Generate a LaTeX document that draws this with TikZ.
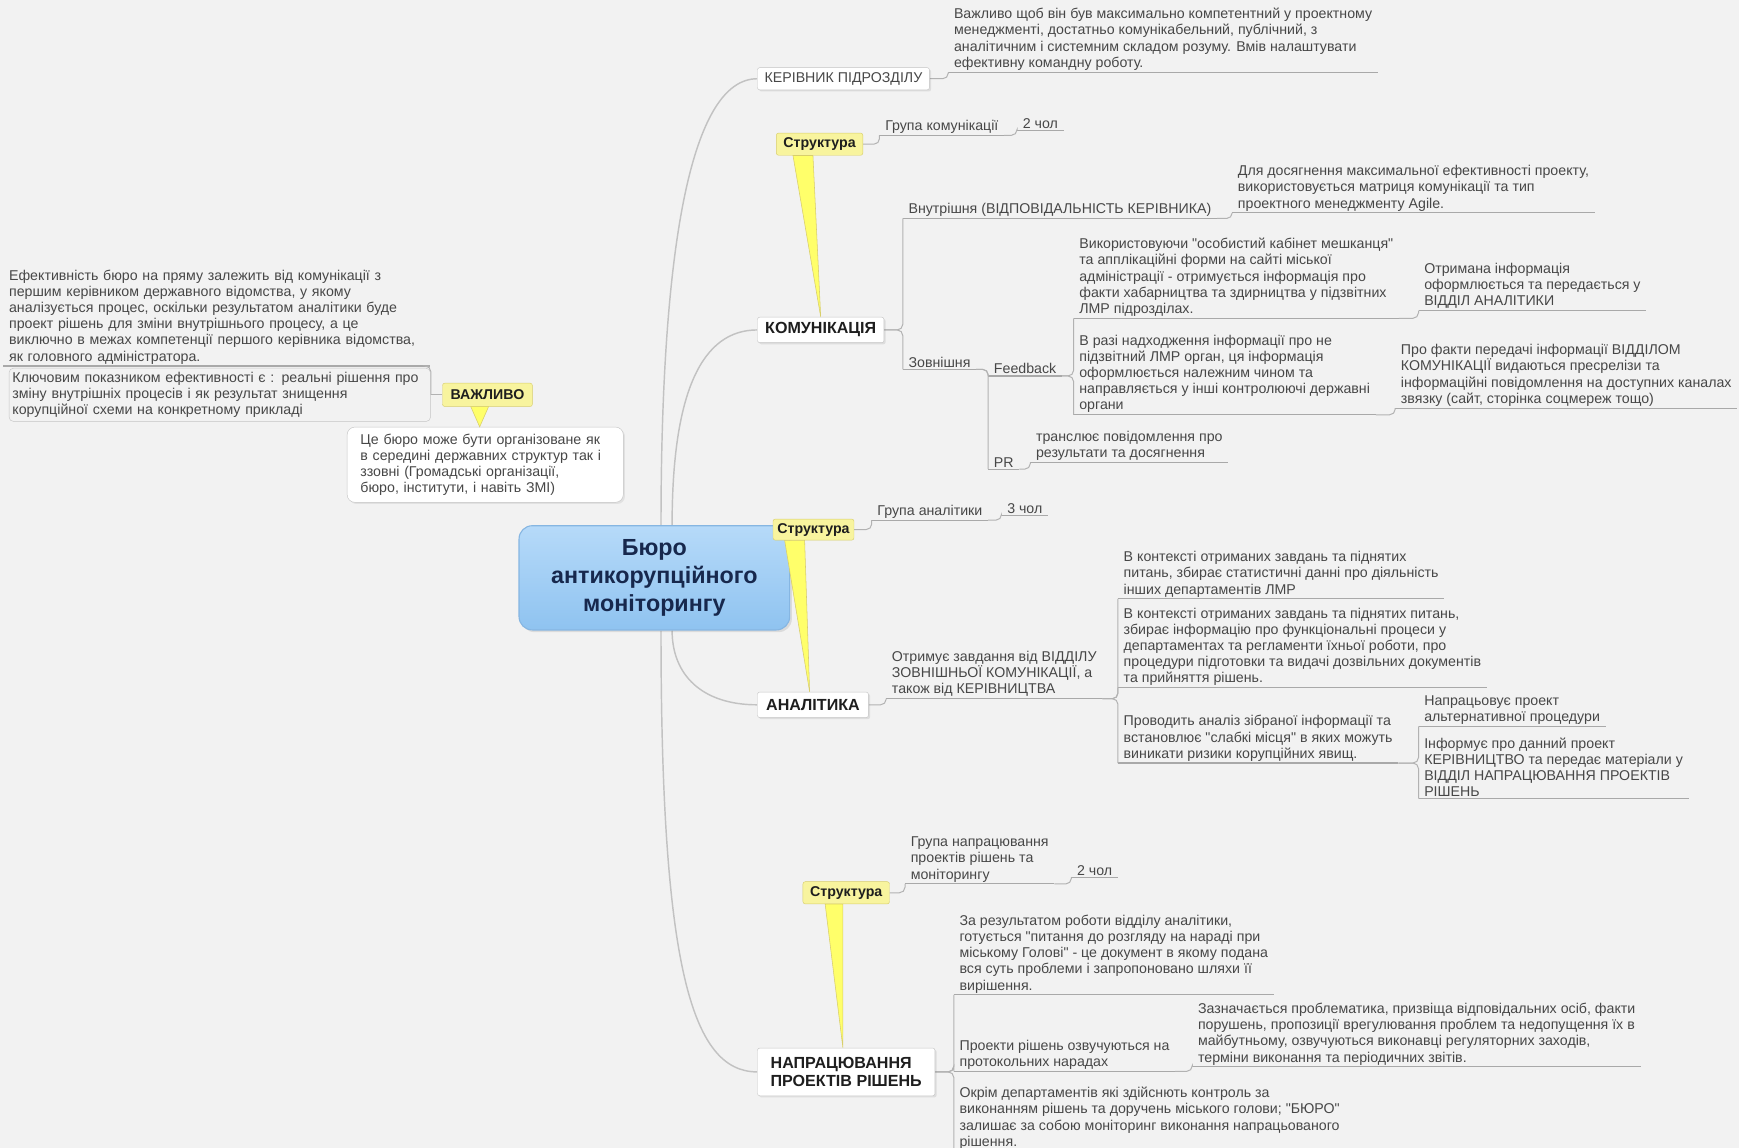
\documentclass[tikz,border=0pt]{standalone}
\usepackage{fontspec}
\setmainfont{Liberation Sans}[Ligatures=TeXOff]
\usetikzlibrary{shadows}
\pgfdeclarelayer{bgfill}
\pgfdeclarelayer{background}
\pgfsetlayers{bgfill,background,main}
\newcommand{\dq}{\char34\relax}
\definecolor{bg}{HTML}{F2F2F2}
\definecolor{lnc}{HTML}{B2B2B2}
\definecolor{brc}{HTML}{C2C2C2}
\definecolor{ulc}{HTML}{A9A9A9}
\definecolor{txc}{HTML}{474747}
\definecolor{tpc}{HTML}{1E1E1E}
\definecolor{bxl}{HTML}{C4C4C4}
\definecolor{yelf}{HTML}{F8F49E}
\definecolor{yeld}{HTML}{D8CE6C}
\definecolor{yelp}{HTML}{FFFF6A}
\definecolor{cbt}{HTML}{B6DAF9}
\definecolor{cbb}{HTML}{8FC3F0}
\definecolor{cbd}{HTML}{86B6E2}
\definecolor{ctx}{HTML}{17284D}
\begin{document}
\begin{tikzpicture}[x=1pt,y=-1pt,
  conn/.style={draw=lnc,line width=0.9pt,rounded corners=5pt},
  branch/.style={draw=brc,line width=1.3pt},
  uline/.style={draw=ulc,line width=1pt},
  bodyfont/.style={font=\fontsize{12.8}{14.6}\selectfont,text=txc},
  body/.style={bodyfont,align=left,inner xsep=5pt,inner ysep=1.5pt,anchor=south west},
  topic/.style={draw=bxl,fill=white,rounded corners=2pt,font=\fontsize{14.5}{17}\selectfont\bfseries,text=tpc,align=center,inner sep=2pt,drop shadow={opacity=0.18,shadow xshift=1.5pt,shadow yshift=-1.5pt}},
  callout/.style={draw=yeld,fill=yelf,rounded corners=2pt,font=\fontsize{12.8}{15}\selectfont\bfseries,text=tpc,inner sep=2pt},
  pointer/.style={fill=yelp,draw=yeld,line width=0.5pt},
  centre/.style={rounded corners=12pt,minimum width=244pt,minimum height=94pt,top color=cbt,bottom color=cbb,draw=cbd,line width=1pt,font=\fontsize{21}{25}\selectfont\bfseries,text=ctx,align=center,drop shadow={opacity=0.2,shadow xshift=2pt,shadow yshift=-2pt}},
]
\begin{pgfonlayer}{bgfill}
\fill[bg] (0,0) rectangle (1568,1035);
\end{pgfonlayer}
\useasboundingbox (0,0) rectangle (1568,1035);

% central and main topics
\node[centre] (c) at (590,521) {Бюро\\антикорупційного\\моніторингу};
\node[topic,minimum width=155pt,minimum height=20pt,font=\fontsize{12.8}{15}\selectfont,text=txc] (kr) at (760.5,71) {КЕРІВНИК ПІДРОЗДІЛУ};
\node[topic,minimum width=114pt,minimum height=23pt] (kom) at (740,297.5) {КОМУНІКАЦІЯ};
\node[topic,minimum width=100pt,minimum height=23pt] (an) at (733,635.5) {АНАЛІТИКА};
\node[topic,minimum width=160pt,minimum height=43pt,align=left] (np) at (763,966.5) {НАПРАЦЮВАННЯ\\ПРОЕКТІВ РІШЕНЬ};

% callouts
\node[callout,minimum width=78pt,minimum height=20pt] (s1) at (739,130) {Структура};
\node[callout,minimum width=73pt,minimum height=19pt] (s2) at (733.5,477.5) {Структура};
\node[callout,minimum width=78pt,minimum height=20pt] (s3) at (763,805) {Структура};
\node[callout,minimum width=81pt,minimum height=21pt] (vz) at (439.5,356) {ВАЖЛИВО};

% left side
\node[draw=bxl,fill=white,rounded corners=7pt,text width=225pt,inner xsep=12pt,inner ysep=6pt,minimum height=66pt,bodyfont,align=left,drop shadow={opacity=0.15,shadow xshift=1.5pt,shadow yshift=-1.5pt}] (cb) at (437.5,419) {Це бюро може бути організоване як\\ в середині державних структур так і\\ ззовні (Громадські організації,\\ бюро, інститути, і навіть ЗМІ)};
\node[draw=bxl,rounded corners=4pt,text width=374pt,inner xsep=3pt,minimum height=48pt,bodyfont,align=left,anchor=west] (kl) at (8,356) {Ключовим показником ефективності є : реальні рішення про\\ зміну внутрішніх процесів і як результат знищення\\ корупційної схеми на конкретному прикладі};
\node[body,text width=374pt] (ef) at (3,330) {Ефективність бюро на пряму залежить від комунікації з\\ першим керівником державного відомства, у якому\\ аналізується процес, оскільки результатом аналітики буде\\ проект рішень для зміни внутрішнього процесу, а це\\ виключно в межах компетенції першого керівника відомства,\\ як головного адміністратора.};

% KERIVNYK
\node[body] (kt) at (855,65) {Важливо щоб він був максимально компетентний у проектному\\ менеджменті, достатньо комунікабельний, публічний, з\\ аналітичним і системним складом розуму. Вмів налаштувати\\ ефективну командну роботу.};

% KOMUNIKATSIIA
\node[body] (gk) at (793,122) {Група комунікації};
\node[body] (gk2) at (917,118) {2 чол};
\node[body] (vn) at (814,197) {Внутрішня (ВІДПОВІДАЛЬНІСТЬ КЕРІВНИКА)};
\node[body] (vnt) at (1111,192) {Для досягнення максимальної ефективності проекту,\\ використовується матриця комунікації та тип\\ проектного менеджменту Agile.};
\node[body] (zv) at (814,333) {Зовнішня};
\node[body] (fb) at (891,339) {Feedback};
\node[body] (pr) at (891,423) {PR};
\node[body] (f1) at (968,287) {Використовуючи \dq особистий кабінет мешканця\dq\\ та апплікаційні форми на сайті міської\\ адміністрації - отримується інформація про\\ факти хабарництва та здирництва у підзвітних\\ ЛМР підрозділах.};
\node[body] (f1a) at (1279,280) {Отримана інформація\\ оформлюється та передається у\\ ВІДДІЛ АНАЛІТИКИ};
\node[body] (f2) at (968,374) {В разі надходження інформації про не\\ підзвітний ЛМР орган, ця інформація\\ оформлюється належним чином та\\ направляється у інші контролюючі державні\\ органи};
\node[body] (f2a) at (1258,368) {Про факти передачі інформації ВІДДІЛОМ\\ КОМУНІКАЦІЇ видаються пресрелізи та\\ інформаційні повідомлення на доступних каналах\\ звязку (сайт, сторінка соцмереж тощо)};
\node[body] (pra) at (929,417) {транслює повідомлення про\\ результати та досягнення};

% ANALITYKA
\node[body] (ga) at (786,469) {Група аналітики};
\node[body] (ga2) at (903,465) {3 чол};
\node[body] (an1) at (799,630) {Отримує завдання від ВІДДІЛУ\\ ЗОВНІШНЬОЇ КОМУНІКАЦІЇ, а\\ також від КЕРІВНИЦТВА};
\node[body] (a1) at (1008,540) {В контексті отриманих завдань та піднятих\\ питань, збирає статистичні данні про діяльність\\ інших департаментів ЛМР};
\node[body] (a2) at (1008,620) {В контексті отриманих завдань та піднятих питань,\\ збирає інформацію про функціональні процеси у\\ департаментах та регламенти їхньої роботи, про\\ процедури підготовки та видачі дозвільних документів\\ та прийняття рішень.};
\node[body] (a3) at (1008,688) {Проводить аналіз зібраної інформації та\\ встановлює \dq слабкі місця\dq\ в яких можуть\\ виникати ризики корупційних явищ.};
\node[body] (a3a) at (1279,655) {Напрацьовує проект\\ альтернативної процедури};
\node[body] (a3b) at (1279,720) {Інформує про данний проект\\ КЕРІВНИЦТВО та передає матеріали у\\ ВІДДІЛ НАПРАЦЮВАННЯ ПРОЕКТІВ\\ РІШЕНЬ};

% NAPRATSIUVANNIA
\node[body] (gn) at (816,797) {Група напрацювання\\ проектів рішень та\\ моніторингу};
\node[body] (gn2) at (966,791) {2 чол};
\node[body] (n1) at (860,897) {За результатом роботи відділу аналітики,\\ готується \dq питання до розгляду на нараді при\\ міському Голові\dq\ - це документ в якому подана\\ вся суть проблеми і запропоновано шляхи її\\ вирішення.};
\node[body] (n2) at (860,966) {Проекти рішень озвучуються на\\ протокольних нарадах};
\node[body] (n2a) at (1075,962) {Зазначається проблематика, призвіща відповідальних осіб, факти\\ порушень, пропозиції врегулювання проблем та недопущення їх в\\ майбутньому, озвучуються виконавці регуляторних заходів,\\ терміни виконання та періодичних звітів.};
\node[body] (n3) at (860,1038) {Окрім департаментів які здійснють контроль за\\ виконанням рішень та доручень міського голови; \dq БЮРО\dq\\ залишає за собою моніторинг виконання напрацьованого\\ рішення.};

% pointers of callouts
\draw[pointer] ([xshift=-24pt]s1.south) -- ([xshift=-6pt]s1.south) -- (kom.north) -- cycle;
\draw[pointer] ([xshift=-26pt]s2.south) -- ([xshift=-8pt]s2.south) -- ([xshift=-3pt]an.north) -- cycle;
\draw[pointer] ([xshift=-19pt]s3.south) -- ([xshift=-3pt]s3.south) -- ([xshift=-3pt]np.north) -- cycle;
\draw[pointer] ([xshift=-15pt]vz.south) -- ([xshift=1pt]vz.south) -- ([xshift=-5pt]cb.north) -- cycle;

\begin{pgfonlayer}{background}
% main branches
\draw[branch] ([xshift=6pt]c.north) .. controls +(0,-250) and +(-60,0) .. (kr.west);
\draw[branch] ([xshift=16pt]c.north) .. controls +(0,-120) and +(-50,0) .. (kom.west);
\draw[branch] ([xshift=16pt]c.south) .. controls +(0,40) and +(-50,0) .. (an.west);
\draw[branch] ([xshift=6pt]c.south) .. controls +(0,300) and +(-60,0) .. (np.west);

% underlines
\foreach \n in {kt,gk,gk2,vn,vnt,zv,fb,pr,f1,f1a,f2,f2a,pra,ga,ga2,an1,a1,a2,a3,a3a,a3b,gn,gn2,n1,n2,n2a,n3,ef}
  \draw[uline] (\n.south west) -- (\n.south east);

% connectors
\draw[conn] (kr.east) -| (kt.south west);
\draw[conn] (s1.east) -| (gk.south west);
\draw[conn] (gk.south east) -| (gk2.south west);
\draw[conn] (kom.east) -| (vn.south west);
\draw[conn] (kom.east) -| (zv.south west);
\draw[conn] (vn.south east) -| (vnt.south west);
\draw[conn] (zv.south east) -| (fb.south west);
\draw[conn] (zv.south east) -| (pr.south west);
\draw[conn] (fb.south east) -| (f1.south west);
\draw[conn] (fb.south east) -| (f2.south west);
\draw[conn] (f1.south east) -| (f1a.south west);
\draw[conn] (f2.south east) -| (f2a.south west);
\draw[conn] (pr.south east) -| (pra.south west);
\draw[conn] (s2.east) -| (ga.south west);
\draw[conn] (ga.south east) -| (ga2.south west);
\draw[conn] (an.east) -| (an1.south west);
\draw[conn] (an1.south east) -| (a1.south west);
\draw[conn] (an1.south east) -| (a2.south west);
\draw[conn] (an1.south east) -| (a3.south west);
\draw[conn] (a3.south east) -| (a3a.south west);
\draw[conn] (a3.south east) -| (a3b.south west);
\draw[conn] (s3.east) -| (gn.south west);
\draw[conn] (gn.south east) -| (gn2.south west);
\draw[conn] (np.east) -| (n1.south west);
\draw[conn] (np.east) -| (n2.south west);
\draw[conn] (np.east) -| (n3.south west);
\draw[conn] (n2.south east) -| (n2a.south west);
\draw[conn] (vz.west) -- (kl.east);
\draw[conn] (kl.east) |- (ef.south east);
\end{pgfonlayer}
\end{tikzpicture}
\end{document}
